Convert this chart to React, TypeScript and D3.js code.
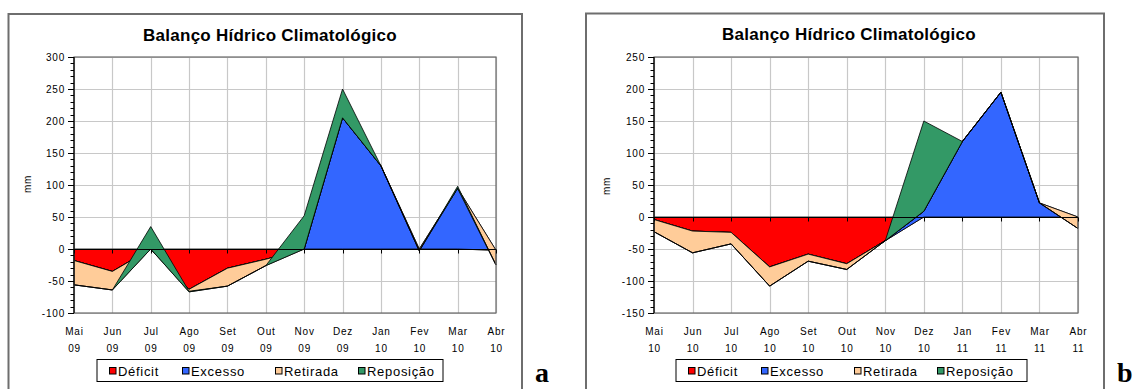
import React, { useEffect, useRef } from "react";
import * as d3 from "d3";

// categories
const months = ["Mai", "Jun", "Jul", "Ago", "Set", "Out", "Nov", "Dez", "Jan", "Fev", "Mar", "Abr"];
const yearsA = ["09", "09", "09", "09", "09", "09", "09", "09", "10", "10", "10", "10"];
const yearsB = ["10", "10", "10", "10", "10", "10", "10", "10", "11", "11", "11", "11"];

// chart a (2009/10) - stacked area values in mm
const deficitA = [-18, -35, 0, -63, -30, -16, 0, 0, 0, 0, 0, -2];
const excessoA = [0, 0, 0, 0, 0, 0, 0, 205, 130, 0, 95, 0];
const retiradaA = [-38, -29, 0, -4, -28, -10, 0, 0, 0, -3, 0, -23];
const reposicaoA = [0, 0, 35, 1, 0, 0, 52, 45, 0, 0, 3, 0];

// chart b (2010/11)
const deficitB = [-4, -22, -24, -78, -58, -73, -37, 0, 0, 0, 0, 0];
const excessoB = [0, 0, 0, 0, 0, 0, 0, 9, 118, 195, 22, 0];
const retiradaB = [-19, -34, -18, -30, -11, -9, 0, 0, 0, 0, 0, -18];
const reposicaoB = [0, 0, 0, 0, 0, 0, 0, 141, 0, 0, 0, 0];

const ticksA = [-100, -50, 0, 50, 100, 150, 200, 250, 300];
const ticksB = [-150, -100, -50, 0, 50, 100, 150, 200, 250];

const seriesNames = ["Déficit", "Excesso", "Retirada", "Reposição"];
const seriesColors = ["#ff0000", "#3366ff", "#ffcc99", "#339966"];

const FONT = "'Liberation Sans', Arial, sans-serif";

function drawChart(svg: any, o: any) {
    const g = svg.append("g");

    // chart border
    g.append("rect")
        .attr("x", o.bx0).attr("y", o.by0)
        .attr("width", o.bx1 - o.bx0).attr("height", 420)
        .attr("fill", "#fff").attr("stroke", "#6e6e6e").attr("stroke-width", 2);

    const x = d3.scalePoint().domain(months).range([o.px0, o.px1]);
    const y = d3.scaleLinear().domain([o.ticks[0], o.ticks[o.ticks.length - 1]]).range([o.py1, o.py0]);

    // gridlines
    g.selectAll(".hgrid").data(o.ticks).enter().append("line")
        .attr("x1", o.px0).attr("x2", o.px1)
        .attr("y1", (d: number) => Math.round(y(d)) + 0.5).attr("y2", (d: number) => Math.round(y(d)) + 0.5)
        .attr("stroke", "#c8c8c8").attr("stroke-width", 1.2);
    g.selectAll(".vgrid").data(months).enter().append("line")
        .attr("x1", (d: string) => Math.round(x(d)!) + 0.5).attr("x2", (d: string) => Math.round(x(d)!) + 0.5)
        .attr("y1", o.py0).attr("y2", o.py1)
        .attr("stroke", "#c8c8c8").attr("stroke-width", 1.2);

    // stacked areas (Excel style: cumulative sums, later series on top)
    const rows = months.map((m, i) => {
        const r: any = { month: m };
        seriesNames.forEach((s, k) => { r[s] = o.data[k][i]; });
        return r;
    });
    const stacked = d3.stack().keys(seriesNames)(rows);
    const area = d3.area<any>()
        .x((d: any, i: number) => x(months[i])!)
        .y0((d: any) => y(d[0]))
        .y1((d: any) => y(d[1]));

    g.selectAll(".area").data(stacked).enter().append("path")
        .attr("d", (d: any) => area(d))
        .attr("fill", (d: any, i: number) => seriesColors[i])
        .attr("stroke", "#000").attr("stroke-width", 0.8).attr("stroke-linejoin", "round");

    // plot border
    g.append("rect")
        .attr("x", o.px0).attr("y", o.py0)
        .attr("width", o.px1 - o.px0).attr("height", o.py1 - o.py0)
        .attr("fill", "none").attr("stroke", "#6a6a6a").attr("stroke-width", 1.2);

    // zero axis with ticks
    const y0 = Math.round(y(0)) + 0.5;
    g.append("line").attr("x1", o.px0).attr("x2", o.px1).attr("y1", y0).attr("y2", y0)
        .attr("stroke", "#000").attr("stroke-width", 1);
    g.selectAll(".xtick").data(months).enter().append("line")
        .attr("x1", (d: string) => Math.round(x(d)!) + 0.5).attr("x2", (d: string) => Math.round(x(d)!) + 0.5)
        .attr("y1", y0).attr("y2", y0 + 4)
        .attr("stroke", "#000");

    // value axis
    g.append("line").attr("x1", o.px0).attr("x2", o.px0).attr("y1", o.py0).attr("y2", o.py1)
        .attr("stroke", "#000").attr("stroke-width", 1.2);
    const minor = d3.range(o.ticks[0], o.ticks[o.ticks.length - 1] + 1, 10);
    g.selectAll(".minor").data(minor).enter().append("line")
        .attr("x1", o.px0 - 3.5).attr("x2", o.px0)
        .attr("y1", (d: number) => Math.round(y(d)) + 0.5).attr("y2", (d: number) => Math.round(y(d)) + 0.5)
        .attr("stroke", "#000");
    g.selectAll(".major").data(o.ticks).enter().append("line")
        .attr("x1", o.px0 - 6).attr("x2", o.px0)
        .attr("y1", (d: number) => Math.round(y(d)) + 0.5).attr("y2", (d: number) => Math.round(y(d)) + 0.5)
        .attr("stroke", "#000");
    g.selectAll(".ylab").data(o.ticks).enter().append("text")
        .attr("x", o.px0 - 9).attr("y", (d: number) => y(d) + 3.6)
        .attr("text-anchor", "end")
        .attr("font-family", FONT).attr("font-size", 10).attr("letter-spacing", 0.8)
        .text((d: number) => d);

    // category labels (two lines)
    g.selectAll(".xlab").data(months).enter().append("text")
        .attr("x", (d: string) => x(d)! + 0.5).attr("y", 335)
        .attr("text-anchor", "middle")
        .attr("font-family", FONT).attr("font-size", 10).attr("letter-spacing", 0.8)
        .text((d: string) => d);
    g.selectAll(".xyear").data(months).enter().append("text")
        .attr("x", (d: string) => x(d)! + 0.5).attr("y", 351.5)
        .attr("text-anchor", "middle")
        .attr("font-family", FONT).attr("font-size", 10).attr("letter-spacing", 0.8)
        .text((d: string, i: number) => o.years[i]);

    // y title
    g.append("text")
        .attr("transform", `translate(${o.mmX},${o.mmY}) rotate(-90)`)
        .attr("text-anchor", "middle")
        .attr("font-family", FONT).attr("font-size", 10).attr("letter-spacing", 0.6)
        .text("mm");

    // title
    g.append("text")
        .attr("x", o.titleX).attr("y", o.titleY)
        .attr("text-anchor", "middle")
        .attr("font-family", FONT).attr("font-size", 17).attr("font-weight", "bold")
        .attr("letter-spacing", 0.25)
        .text("Balanço Hídrico Climatológico");

    // legend
    g.append("rect")
        .attr("x", o.lx0).attr("y", 359.5)
        .attr("width", o.lx1 - o.lx0).attr("height", 22)
        .attr("fill", "#fff").attr("stroke", "#000").attr("stroke-width", 1);
    const offs = [12, 85, 178, 261];
    seriesNames.forEach((s, i) => {
        const sx = o.lx0 + offs[i];
        g.append("rect")
            .attr("x", sx + 0.5).attr("y", 367.5).attr("width", 6.5).attr("height", 6.5)
            .attr("fill", seriesColors[i]).attr("stroke", "#000").attr("stroke-width", 1);
        g.append("text")
            .attr("x", sx + 9).attr("y", 375.5)
            .attr("font-family", FONT).attr("font-size", 13).attr("letter-spacing", 0.7)
            .text(s);
    });

    // panel letter
    svg.append("text")
        .attr("x", o.letterX).attr("y", o.letterY)
        .attr("font-family", "'Liberation Serif', 'Times New Roman', serif")
        .attr("font-size", 28).attr("font-weight", "bold")
        .text(o.letter);
}

export default function App() {
    const ref = useRef<SVGSVGElement>(null);

    useEffect(() => {
        const svg = d3.select(ref.current);
        svg.selectAll("*").remove();

        svg.append("rect").attr("width", 1136).attr("height", 389).attr("fill", "#fff");

        drawChart(svg, {
            bx0: 8.5, bx1: 522, by0: 14,
            px0: 74, px1: 496, py0: 57, py1: 313,
            ticks: ticksA, years: yearsA,
            data: [deficitA, excessoA, retiradaA, reposicaoA],
            titleX: 270, titleY: 41, mmX: 31, mmY: 184,
            lx0: 97, lx1: 443,
            letter: "a", letterX: 535, letterY: 382
        });

        drawChart(svg, {
            bx0: 586, bx1: 1104, by0: 13.5,
            px0: 654, px1: 1078, py0: 57, py1: 313,
            ticks: ticksB, years: yearsB,
            data: [deficitB, excessoB, retiradaB, reposicaoB],
            titleX: 849, titleY: 40, mmX: 610, mmY: 186,
            lx0: 676, lx1: 1027,
            letter: "b", letterX: 1117, letterY: 382
        });
    }, []);

    return (
        <svg ref={ref} width={1136} height={389}
             style={{ position: "absolute", left: 0, top: 0, display: "block" }} />
    );
}
